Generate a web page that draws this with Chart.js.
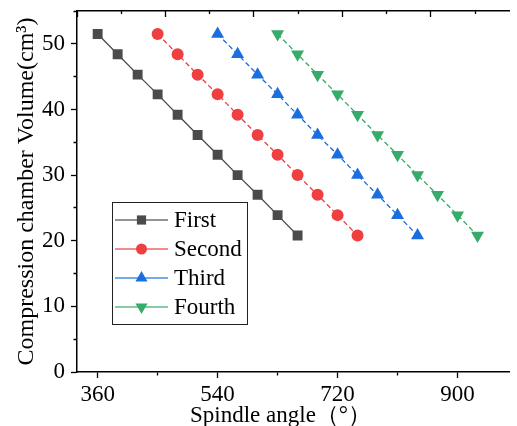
<!DOCTYPE html>
<html>
<head>
<meta charset="utf-8">
<script src="https://cdn.jsdelivr.net/npm/chart.js@4.4.0/dist/chart.umd.min.js"></script>
<style>
  body { margin: 0; background: #fff; }
  #wrap { width: 517px; height: 426px; }
</style>
</head>
<body>
<div id="wrap"><canvas id="chart" width="517" height="426"></canvas></div>
<script>
// data
const seriesNames = ['First', 'Second', 'Third', 'Fourth'];
const angleFirst  = [360, 390, 420, 450, 480, 510, 540, 570, 600, 630, 660];
const angleSecond = [450, 480, 510, 540, 570, 600, 630, 660, 690, 720, 750];
const angleThird  = [540, 570, 600, 630, 660, 690, 720, 750, 780, 810, 840];
const angleFourth = [630, 660, 690, 720, 750, 780, 810, 840, 870, 900, 930];
const volumeFirst  = [51.5, 48.4, 45.3, 42.3, 39.2, 36.1, 33.1, 30.0, 27.0, 23.9, 20.8];
const volumeSecond = [51.5, 48.4, 45.3, 42.3, 39.2, 36.1, 33.1, 30.0, 27.0, 23.9, 20.8];
const volumeThird  = [51.5, 48.4, 45.3, 42.3, 39.2, 36.1, 33.1, 30.0, 27.0, 23.9, 20.8];
const volumeFourth = [51.5, 48.4, 45.3, 42.3, 39.2, 36.1, 33.1, 30.0, 27.0, 23.9, 20.8];
const xTickLabels = [360, 540, 720, 900];
const yTickLabels = [0, 10, 20, 30, 40, 50];
const xTitle = 'Spindle angle（°）';
const yTitle = 'Compression chamber Volume(cm³)';

const FONT = "'Liberation Serif', 'Times New Roman', serif";
const colors = ['#4b4b4b', '#ef3f40', '#1b6ee0', '#37ab69'];
const styles = [
  { pointStyle: 'rect', radius: 7, rotation: 0, dash: [] },
  { pointStyle: 'circle', radius: 6, rotation: 0, dash: [5, 3] },
  { pointStyle: 'triangle', radius: 7.5, rotation: 0, dash: [5, 3] },
  { pointStyle: 'triangle', radius: 7.5, rotation: 180, dash: [5, 3] }
];

const toPoints = (xs, ys) => xs.map((x, i) => ({ x, y: ys[i] }));
const allData = [
  toPoints(angleFirst, volumeFirst),
  toPoints(angleSecond, volumeSecond),
  toPoints(angleThird, volumeThird),
  toPoints(angleFourth, volumeFourth)
];

const datasets = seriesNames.map((name, i) => ({
  label: name,
  data: allData[i],
  borderColor: colors[i],
  backgroundColor: colors[i],
  borderWidth: 1.3,
  borderDash: styles[i].dash,
  pointStyle: styles[i].pointStyle,
  pointRotation: styles[i].rotation,
  pointRadius: styles[i].radius,
  pointHoverRadius: styles[i].radius,
  pointBorderWidth: 0,
  pointBackgroundColor: colors[i],
  tension: 0
}));

function fixBox(size) {
  return scale => {
    if (scale.isHorizontal()) scale.height = size; else scale.width = size;
    scale.paddingTop = 0; scale.paddingBottom = 0;
    scale.paddingLeft = 0; scale.paddingRight = 0;
  };
}

// axis titles + boxed legend
const decorations = {
  id: 'decorations',
  afterDraw(chart) {
    const ctx = chart.ctx;
    ctx.save();
    ctx.fillStyle = '#000';
    ctx.font = '23px ' + FONT;
    ctx.textBaseline = 'alphabetic';
    ctx.textAlign = 'left';
    ctx.fillText(xTitle, 190, 422);

    const area = chart.chartArea;
    ctx.save();
    ctx.font = '24px ' + FONT;
    ctx.translate(33, (area.top + area.bottom) / 2);
    ctx.rotate(-Math.PI / 2);
    ctx.textAlign = 'center';
    ctx.fillText(yTitle, 0, 0);
    ctx.restore();

    // legend
    ctx.strokeStyle = '#222';
    ctx.lineWidth = 1;
    ctx.strokeRect(112.5, 202.5, 135, 122);
    seriesNames.forEach((name, i) => {
      const y = 220 + i * 29;
      ctx.strokeStyle = colors[i];
      ctx.globalAlpha = 0.8;
      ctx.lineWidth = 1.3;
      ctx.beginPath();
      ctx.moveTo(115, y); ctx.lineTo(168, y);
      ctx.stroke();
      ctx.globalAlpha = 1;
      ctx.fillStyle = colors[i];
      Chart.helpers.drawPoint(ctx, {
        pointStyle: styles[i].pointStyle,
        rotation: styles[i].rotation,
        radius: styles[i].radius - 0.5,
        borderWidth: 0
      }, 141.5, y);
      ctx.fillStyle = '#000';
      ctx.textBaseline = 'middle';
      ctx.fillText(name, 174, y + 1);
    });
    ctx.restore();
  }
};

new Chart(document.getElementById('chart'), {
  type: 'line',
  data: { datasets },
  options: {
    responsive: false,
    animation: false,
    layout: { padding: 0 },
    plugins: { legend: { display: false }, tooltip: { enabled: false } },
    scales: {
      x: {
        type: 'linear',
        position: 'bottom',
        min: 329, max: 978,
        afterFit: fixBox(54),
        border: { display: true, color: '#000', width: 1.5 },
        grid: {
          drawOnChartArea: false, tickLength: 6, tickColor: '#000', tickWidth: 1.3,
          tickBorderDash: c => (c.tick && xTickLabels.includes(c.tick.value)) ? [] : [3, 100]
        },
        ticks: {
          stepSize: 90, includeBounds: false, autoSkip: false, maxRotation: 0,
          padding: 3, color: '#000', font: { family: FONT, size: 23 },
          callback: v => xTickLabels.includes(v) ? String(v) : ''
        }
      },
      xTop: {
        type: 'linear',
        position: 'top',
        min: 0, max: 9.78,
        afterFit: fixBox(11),
        border: { display: true, color: '#000', width: 1.5 },
        grid: {
          drawOnChartArea: false, tickLength: -6, tickColor: '#000', tickWidth: 1.3,
          tickBorderDash: c => (c.tick && c.tick.value % 2 === 0) ? [] : [0, 3, 4, 100]
        },
        ticks: { stepSize: 1, includeBounds: false, autoSkip: false, callback: () => '' }
      },
      y: {
        type: 'linear',
        position: 'left',
        min: 0, max: 55,
        afterFit: fixBox(77),
        border: { display: true, color: '#000', width: 1.5 },
        grid: {
          drawOnChartArea: false, tickLength: 6, tickColor: '#000', tickWidth: 1.3,
          tickBorderDash: c => (c.tick && yTickLabels.includes(c.tick.value)) ? [] : [0, 2.5, 3.5, 100]
        },
        ticks: {
          stepSize: 5, includeBounds: false, autoSkip: false,
          padding: 6, color: '#000', font: { family: FONT, size: 23 },
          callback: v => yTickLabels.includes(v) ? String(v) : ''
        }
      }
    }
  },
  plugins: [decorations]
});
</script>
</body>
</html>
